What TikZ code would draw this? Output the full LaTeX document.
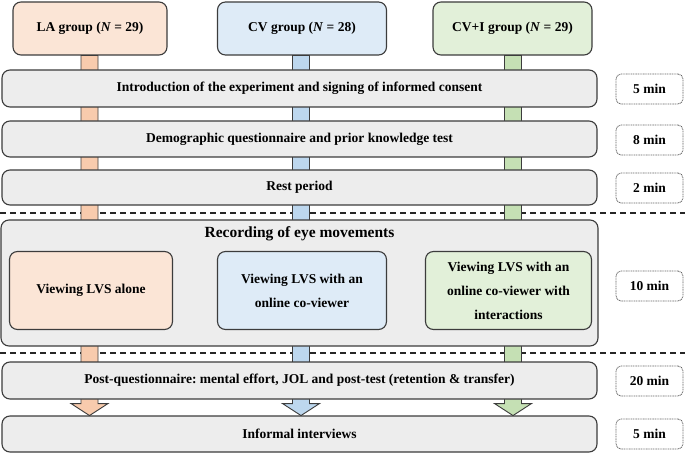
\documentclass[tikz,border=0pt]{standalone}
\usepackage{fontspec}
\setmainfont{Liberation Serif}
\usetikzlibrary{calc}
\frenchspacing
\definecolor{laF}{HTML}{FBE5D6}
\definecolor{laS}{HTML}{F8CBAD}
\definecolor{cvF}{HTML}{DEEBF7}
\definecolor{cvS}{HTML}{BDD7EE}
\definecolor{ciF}{HTML}{E2F0D9}
\definecolor{ciS}{HTML}{C5E0B4}
\definecolor{barF}{HTML}{EDEDED}
\definecolor{edge}{HTML}{3C3C3C}
\tikzset{
  box/.style={draw=edge, line width=1.1pt, rounded corners=8pt, inner sep=0pt, align=center, font=\fontsize{13.5}{24}\selectfont\bfseries},
  bar/.style={box, fill=barF, minimum width=595pt},
  grp/.style={box, minimum height=53pt},
  inner/.style={box, minimum height=78pt},
  timebox/.style={draw=edge!80, line width=0.8pt, dash pattern=on 1pt off 0.7pt, rounded corners=5pt, minimum width=67pt, minimum height=30pt, inner sep=0pt, font=\fontsize{13.5}{15}\selectfont\bfseries},
  sep/.style={draw=black!85, line width=1.3pt, dash pattern=on 6pt off 4pt},
  stemline/.style={draw=edge, line width=0.9pt},
}
\newcommand\flowstem[3]{%
  \draw[stemline, fill=#2] ($(#1.south)+(#3-8.5,0)$) -- ($(#1.south)+(#3-8.5,348)$) -- ($(#1.south)+(#3-18.5,348)$) -- ($(#1.south)+(#3,360)$) -- ($(#1.south)+(#3+18.5,348)$) -- ($(#1.south)+(#3+8.5,348)$) -- ($(#1.south)+(#3+8.5,0)$) -- cycle;}
\begin{document}
\begin{tikzpicture}[x=1pt, y=-1pt]
\useasboundingbox (0,0) rectangle (685,454);
% group boxes
\node[grp, fill=laF, minimum width=154pt] (la) at (90,28.5) {LA group (\textit{N} = 29)};
\node[grp, fill=cvF, minimum width=169pt] (cv) at (302,28.5) {CV group (\textit{N} = 28)};
\node[grp, fill=ciF, minimum width=159pt] (ci) at (512.5,28.5) {CV+I group (\textit{N} = 29)};
% separators
\coordinate (s1l) at (0,213); \coordinate (s1r) at (685,213);
\coordinate (s2l) at (0,353); \coordinate (s2r) at (685,353);
\draw[sep] (s1l) -- (s1r);
\draw[sep] (s2l) -- (s2r);
% stems
\flowstem{la}{laS}{-0.5}
\flowstem{cv}{cvS}{-1}
\flowstem{ci}{ciS}{0.5}
% bars
\node[bar, minimum height=37pt] (intro) at (299.5,88.5) {Introduction of the experiment and signing of informed consent};
\node[bar, minimum height=36pt] (demo) at (299.5,139) {Demographic questionnaire and prior knowledge test};
\node[bar, minimum height=35pt] (rest) at (299.5,187.5) {Rest period};
\node[bar, fill=barF, minimum width=597pt, minimum height=126pt] (rec) at (299.5,283) {};
\node[font=\fontsize{15.5}{18}\selectfont\bfseries] (rectitle) at (299.5,234) {Recording of eye movements};
\node[inner, fill=laF, minimum width=163pt] (v1) at (91,290.5) {Viewing LVS alone};
\node[inner, fill=cvF, minimum width=169pt] (v2) at (302,290.5) {Viewing LVS with an\\online co-viewer};
\node[inner, fill=ciF, minimum width=166pt] (v3) at (508.5,290.5) {Viewing LVS with an\\online co-viewer with\\interactions};
\node[bar, minimum height=37pt] (post) at (299.5,380.5) {Post-questionnaire: mental effort, JOL and post-test (retention \& transfer)};
\node[bar, minimum height=36pt] (inter) at (299.5,434) {Informal interviews};
% time boxes
\node[timebox] (t1) at (649.5,89) {5 min};
\node[timebox] (t2) at (649.5,140) {8 min};
\node[timebox] (t3) at (649.5,188) {2 min};
\node[timebox] (t4) at (649.5,286) {10 min};
\node[timebox] (t5) at (649.5,381) {20 min};
\node[timebox] (t6) at (649.5,434) {5 min};
\end{tikzpicture}
\end{document}
